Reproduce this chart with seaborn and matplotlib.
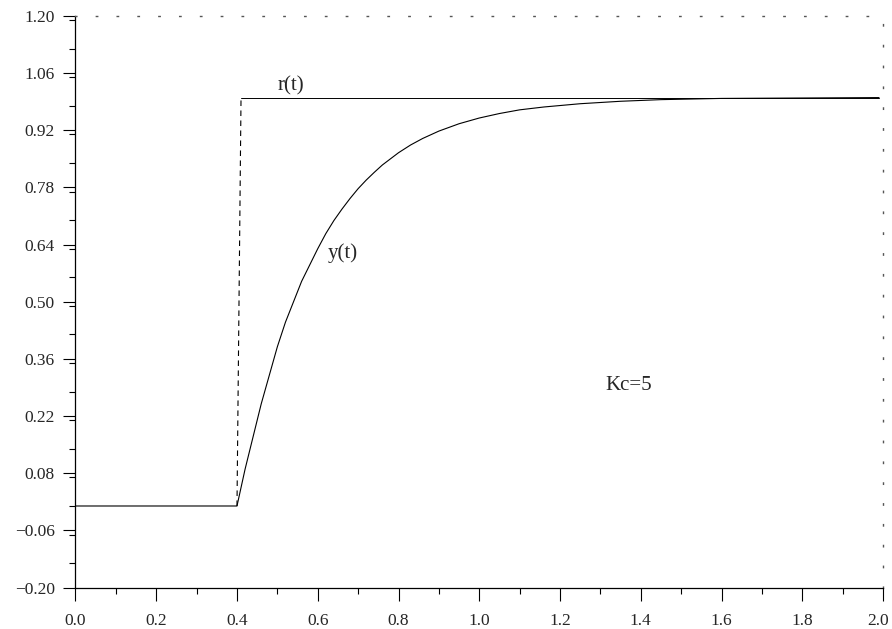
import numpy as np
import seaborn as sns
import matplotlib.pyplot as plt
from matplotlib.ticker import MultipleLocator, FuncFormatter
from matplotlib.transforms import ScaledTranslation

# y(t)
t_y = [0.0, 0.40, 0.42, 0.44, 0.46, 0.48, 0.50, 0.52, 0.54, 0.56, 0.58, 0.60,
       0.62, 0.64, 0.66, 0.68, 0.70, 0.72, 0.74, 0.76, 0.78, 0.80, 0.83, 0.86,
       0.90, 0.95, 1.00, 1.05, 1.10, 1.16, 1.25, 1.35, 1.45, 1.60, 1.80, 1.99]
y_vals = [0.0, 0.0, 0.09, 0.17, 0.25, 0.32, 0.39, 0.45, 0.50, 0.55, 0.59, 0.63,
          0.667, 0.699, 0.727, 0.753, 0.777, 0.798, 0.817, 0.835, 0.850, 0.865,
          0.884, 0.900, 0.918, 0.936, 0.950, 0.961, 0.970, 0.977, 0.985, 0.991,
          0.995, 0.998, 0.999, 1.0]

# r(t) step
t_step = [0.40, 0.41]
r_step = [0.0, 1.0]
t_r = [0.41, 1.99]
r_vals = [1.0, 1.0]

sns.set_style("white")
plt.rcParams['font.family'] = ['Liberation Serif', 'DejaVu Serif']

fig = plt.figure(figsize=(8.92, 6.29), dpi=100)
ax = fig.add_axes([0.0846, 0.0657, 0.9054, 0.909])

sns.lineplot(x=t_y, y=y_vals, color="black", linewidth=0.8, ax=ax)
sns.lineplot(x=t_r, y=r_vals, color="black", linewidth=0.7, ax=ax)
sns.lineplot(x=t_step, y=r_step, color="black", linewidth=0.8,
             linestyle=(0, (5, 4)), ax=ax)

ax.text(0.533, 1.029, "r(t)", fontsize=15, ha="center", va="center")
ax.text(0.662, 0.62, "y(t)", fontsize=15, ha="center", va="center")
ax.text(1.37, 0.294, "Kc=5", fontsize=15, ha="center", va="center")

ax.set_xlim(0, 2.0)
ax.set_ylim(-0.20, 1.20)
ax.set_xticks(np.arange(0, 2.01, 0.2))
ax.xaxis.set_minor_locator(MultipleLocator(0.1))
ax.yaxis.set_minor_locator(MultipleLocator(0.07))
ax.set_yticks(np.arange(-0.20, 1.21, 0.14))
ax.xaxis.set_major_formatter(FuncFormatter(lambda v, p: f"{v:.1f}".replace("-", "\u2212")))
ax.yaxis.set_major_formatter(FuncFormatter(lambda v, p: f"{v:.2f}".replace("-", "\u2212")))

ax.tick_params(which="major", length=9, width=0.8, color="black",
               labelsize=12.5, direction="out", bottom=True, left=True,
               top=False, right=False)
ax.tick_params(which="minor", length=4, width=0.8, color="black",
               direction="out", bottom=True, left=True, top=False, right=False)
ax.tick_params(axis="x", which="major", pad=9)
ax.tick_params(axis="y", which="major", pad=6)

for s in ["left", "bottom"]:
    ax.spines[s].set_color("black")
    ax.spines[s].set_linewidth(0.9)
for s in ["top", "right"]:
    ax.spines[s].set_color("#555555")
    ax.spines[s].set_linewidth(1.0)
    ax.spines[s].set_linestyle((0, (1, 14)))

# keep the 2.0 label inside the figure
fig.canvas.draw()
for lab in ax.get_xticklabels():
    if lab.get_text() == "2.0":
        lab.set_transform(lab.get_transform() + ScaledTranslation(-5 / 100, 0, fig.dpi_scale_trans))

fig.savefig("out.png", dpi=100)
